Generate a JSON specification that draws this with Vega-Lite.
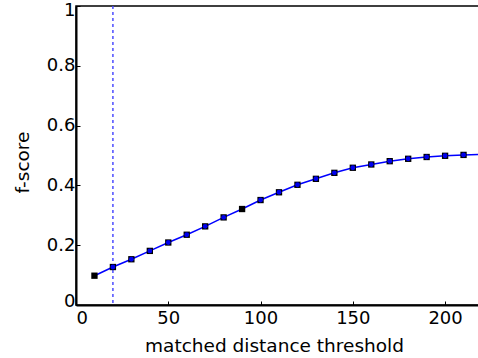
{
  "$schema": "https://vega.github.io/schema/vega-lite/v6.json",
  "autosize": "none",
  "padding": {"left": 76, "top": 6, "right": 0, "bottom": 53},
  "width": 406,
  "height": 299,
  "config": {
    "view": {"stroke": "black", "strokeWidth": 1.5},
    "axis": {
      "labelFont": "DejaVu Sans",
      "titleFont": "DejaVu Sans",
      "labelFontSize": 18,
      "titleFontSize": 18.5,
      "labelColor": "black",
      "titleColor": "black",
      "titleFontWeight": "normal",
      "domainColor": "black",
      "domainWidth": 2,
      "tickColor": "black",
      "grid": false
    }
  },
  "datasets": {
    "pts": [
      {"threshold": 10, "fscore": 0.098, "blue": 0},
      {"threshold": 20, "fscore": 0.127, "blue": 1},
      {"threshold": 30, "fscore": 0.153, "blue": 1},
      {"threshold": 40, "fscore": 0.181, "blue": 1},
      {"threshold": 50, "fscore": 0.209, "blue": 1},
      {"threshold": 60, "fscore": 0.235, "blue": 1},
      {"threshold": 70, "fscore": 0.263, "blue": 1},
      {"threshold": 80, "fscore": 0.293, "blue": 1},
      {"threshold": 90, "fscore": 0.321, "blue": 0},
      {"threshold": 100, "fscore": 0.351, "blue": 1},
      {"threshold": 110, "fscore": 0.377, "blue": 1},
      {"threshold": 120, "fscore": 0.402, "blue": 1},
      {"threshold": 130, "fscore": 0.422, "blue": 1},
      {"threshold": 140, "fscore": 0.442, "blue": 1},
      {"threshold": 150, "fscore": 0.459, "blue": 1},
      {"threshold": 160, "fscore": 0.470, "blue": 1},
      {"threshold": 170, "fscore": 0.481, "blue": 1},
      {"threshold": 180, "fscore": 0.489, "blue": 1},
      {"threshold": 190, "fscore": 0.495, "blue": 1},
      {"threshold": 200, "fscore": 0.499, "blue": 1},
      {"threshold": 210, "fscore": 0.502, "blue": 1}
    ],
    "curve": [
      {"threshold": 10, "fscore": 0.098},
      {"threshold": 20, "fscore": 0.127},
      {"threshold": 30, "fscore": 0.153},
      {"threshold": 40, "fscore": 0.181},
      {"threshold": 50, "fscore": 0.209},
      {"threshold": 60, "fscore": 0.235},
      {"threshold": 70, "fscore": 0.263},
      {"threshold": 80, "fscore": 0.293},
      {"threshold": 90, "fscore": 0.321},
      {"threshold": 100, "fscore": 0.351},
      {"threshold": 110, "fscore": 0.377},
      {"threshold": 120, "fscore": 0.402},
      {"threshold": 130, "fscore": 0.422},
      {"threshold": 140, "fscore": 0.442},
      {"threshold": 150, "fscore": 0.459},
      {"threshold": 160, "fscore": 0.470},
      {"threshold": 170, "fscore": 0.481},
      {"threshold": 180, "fscore": 0.489},
      {"threshold": 190, "fscore": 0.495},
      {"threshold": 200, "fscore": 0.499},
      {"threshold": 210, "fscore": 0.502},
      {"threshold": 220, "fscore": 0.504}
    ],
    "vline": [{"threshold": 20}]
  },
  "layer": [
    {
      "data": {"name": "vline"},
      "mark": {"type": "rule", "color": "#4d4dff", "strokeWidth": 1.5, "strokeDash": [3, 3]},
      "encoding": {
        "x": {"field": "threshold", "type": "quantitative", "scale": {"domain": [0, 220]}}
      }
    },
    {
      "data": {"name": "curve"},
      "mark": {"type": "line", "color": "#0000ff", "strokeWidth": 1.5, "clip": true},
      "encoding": {
        "x": {
          "field": "threshold", "type": "quantitative",
          "scale": {"domain": [0, 220], "nice": false},
          "axis": {"title": "matched distance threshold", "values": [0, 50, 100, 150, 200], "tickSize": -4, "labelPadding": 8, "titlePadding": 9, "titleX": 198}
        },
        "y": {
          "field": "fscore", "type": "quantitative",
          "scale": {"domain": [0, 1], "nice": false},
          "axis": {"title": "f-score", "values": [0, 0.2, 0.4, 0.6, 0.8, 1], "format": "~g", "tickSize": -4, "labelPadding": 5, "titlePadding": 14, "titleY": 156, "labelFlush": true, "labelFlushOffset": 5}
        }
      }
    },
    {
      "data": {"name": "pts"},
      "mark": {"type": "square", "color": "black", "opacity": 1, "size": 40},
      "encoding": {
        "x": {"field": "threshold", "type": "quantitative"},
        "y": {"field": "fscore", "type": "quantitative"}
      }
    },
    {
      "data": {"name": "pts"},
      "transform": [{"filter": "datum.blue == 1"}],
      "mark": {"type": "circle", "color": "#0000ee", "opacity": 1, "size": 24},
      "encoding": {
        "x": {"field": "threshold", "type": "quantitative"},
        "y": {"field": "fscore", "type": "quantitative"}
      }
    }
  ]
}
